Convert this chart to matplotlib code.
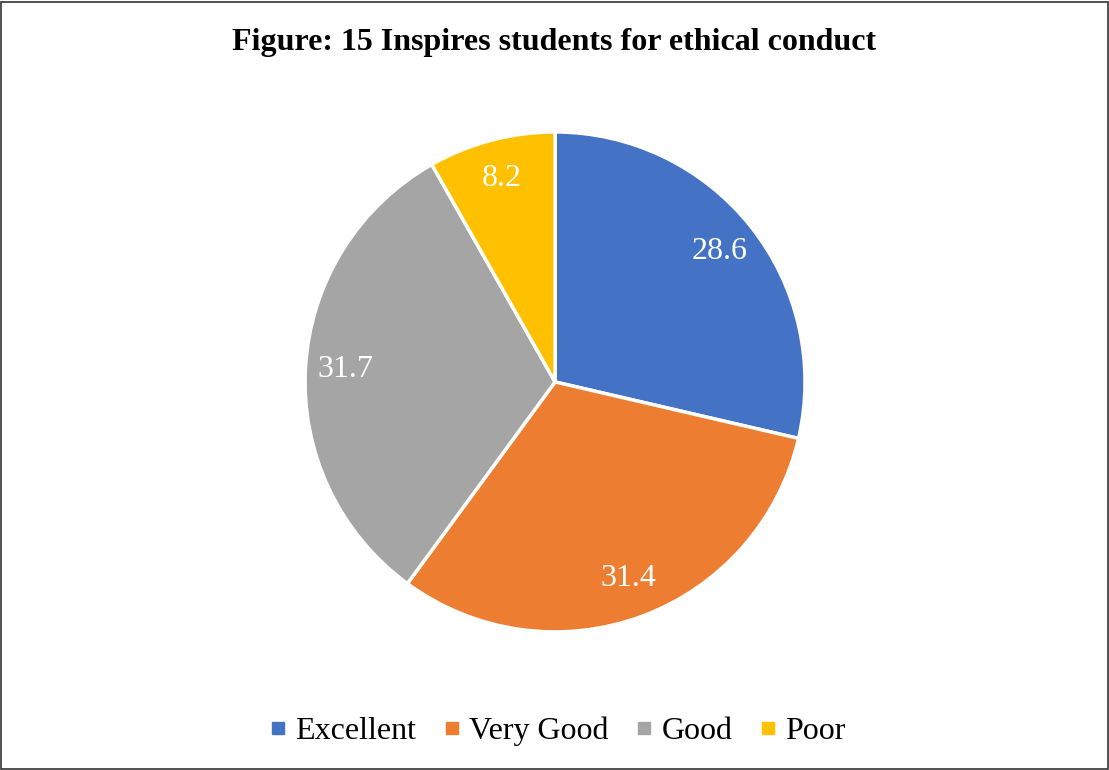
import matplotlib.pyplot as plt
from matplotlib.patches import Rectangle

categories = ['Excellent', 'Very Good', 'Good', 'Poor']
values = [28.6, 31.4, 31.7, 8.2]
colors = ['#4472C4', '#ED7D31', '#A5A5A5', '#FFC000']

plt.rcParams['font.family'] = ['Liberation Serif', 'DejaVu Serif']

fig = plt.figure(figsize=(11.09, 7.70), dpi=100)
ax = fig.add_axes([0.5005 - 0.2254, 0.504 - 0.3247, 0.4508, 0.6494])

wedges, texts = ax.pie(values, colors=colors, startangle=90, counterclock=False,
                       labels=[f'{v:.1f}' for v in values], labeldistance=0.84,
                       wedgeprops=dict(edgecolor='white', linewidth=2.5))
for t in texts:
    t.set_color('white')
    t.set_fontsize(23)
    t.set_ha('center')
    t.set_va('center')
ax.set_xlim(-1, 1)
ax.set_ylim(-1, 1)
ax.set_aspect('equal')

fig.text(0.5, 0.945, 'Figure: 15 Inspires students for ethical conduct',
         ha='center', va='center', fontsize=23, fontweight='bold')

handles = [plt.Line2D([], [], marker='s', linestyle='', markersize=9,
                      markerfacecolor=c, markeredgecolor=c) for c in colors]
fig.legend(handles, categories, loc='center', bbox_to_anchor=(0.5, 0.05),
           ncol=4, frameon=False, fontsize=23, handletextpad=0.1,
           columnspacing=0.65, handlelength=0.9)

fig.patches.append(Rectangle((0.001, 0.001), 0.998, 0.997, transform=fig.transFigure,
                             fill=False, edgecolor='#333333', linewidth=1.2))

fig.savefig('out.png', dpi=100)
